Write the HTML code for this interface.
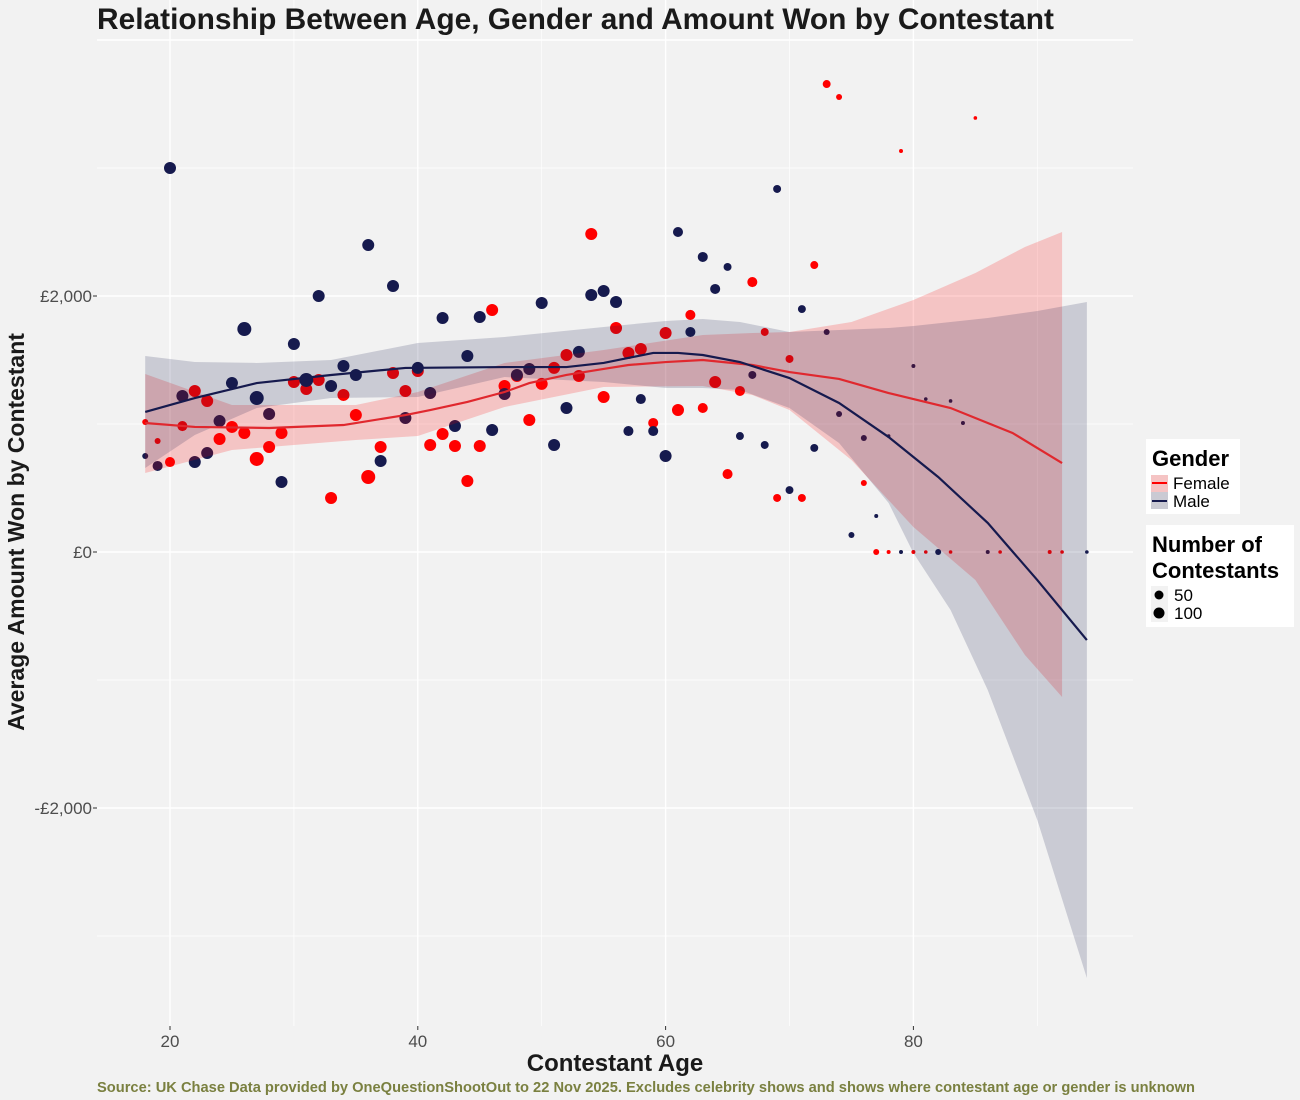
<!DOCTYPE html>
<html><head><meta charset="utf-8"><style>
body{margin:0;background:#f2f2f2;}
svg{display:block;font-family:"Liberation Sans",Arial,sans-serif;}
</style></head><body>
<svg id="chart" width="1300" height="1100" viewBox="0 0 1300 1100" xmlns="http://www.w3.org/2000/svg">
<rect width="1300" height="1100" fill="#f2f2f2"/>
<g id="grid"></g>
<g id="points"></g>
<g id="smooth"></g>
<g id="axes"></g>
<text x="97" y="29" font-size="30" font-weight="bold" fill="#1a1a1a" textLength="957" lengthAdjust="spacingAndGlyphs">Relationship Between Age, Gender and Amount Won by Contestant</text>
<text transform="translate(24,532) rotate(-90)" text-anchor="middle" font-size="23" font-weight="bold" fill="#1a1a1a">Average Amount Won by Contestant</text>
<text x="615" y="1071" text-anchor="middle" font-size="24" font-weight="bold" fill="#1a1a1a">Contestant Age</text>
<text x="97" y="1092" font-size="14.5" font-weight="bold" fill="#7a8040" textLength="1098" lengthAdjust="spacingAndGlyphs">Source: UK Chase Data provided by OneQuestionShootOut to 22 Nov 2025. Excludes celebrity shows and shows where contestant age or gender is unknown</text>
<g>
<rect x="1146" y="439" width="94" height="75" fill="#ffffff"/>
<text x="1152" y="466" font-size="22" font-weight="bold" fill="#000">Gender</text>
<rect x="1151" y="475" width="17" height="17" fill="#f5c4c4"/>
<line x1="1152" y1="483" x2="1167" y2="483" stroke="#ff0000" stroke-width="2"/>
<text x="1173" y="489" font-size="17" fill="#000">Female</text>
<rect x="1151" y="492" width="17" height="17" fill="#cacad3"/>
<line x1="1152" y1="501" x2="1167" y2="501" stroke="#161a4e" stroke-width="2"/>
<text x="1173" y="507" font-size="17" fill="#000">Male</text>
</g>
<g>
<rect x="1146" y="525" width="148" height="102" fill="#ffffff"/>
<text x="1152" y="552" font-size="22" font-weight="bold" fill="#000">Number of</text>
<text x="1152" y="578" font-size="22" font-weight="bold" fill="#000">Contestants</text>
<rect x="1151" y="586" width="17" height="36" fill="#f2f2f2"/>
<circle cx="1159" cy="595" r="4.5" fill="#000"/>
<text x="1174" y="601" font-size="17" fill="#000">50</text>
<circle cx="1159" cy="613" r="5.5" fill="#000"/>
<text x="1174" y="619" font-size="17" fill="#000">100</text>
</g>
</svg>
<script>
const fAges=[18,19,20,21,22,23,24,25,26,27,28,29,30,31,32,33,34,35,36,37,38,39,40,41,42,43,44,45,46,47,48,49,50,51,52,53,54,55,56,57,58,59,60,61,62,63,64,65,66,67,68,69,70,71,72,73,74,76,77,78,79,80,81,83,85,87,91,92];
const fAmounts=[1016,867,703,984,1258,1180,883,977,930,727,820,930,1328,1273,1344,422,1227,1070,586,820,1398,1258,1414,836,922,828,555,828,1891,1297,1375,1031,1313,1438,1539,1375,2484,1211,1750,1555,1586,1008,1711,1109,1852,1125,1328,609,1258,2109,1719,422,1508,422,2242,3656,3555,539,0,0,3133,0,0,0,3391,0,0,0];
const fCounts=[25,25,70,70,100,100,100,100,100,136,100,100,100,100,100,100,100,100,136,100,100,100,100,100,100,100,100,100,100,100,100,100,100,100,100,100,100,100,100,100,100,70,100,100,70,70,100,70,70,70,44,44,44,44,44,44,25,25,25,11,11,11,9,9,9,9,11,9];
const mAges=[18,19,20,21,22,23,24,25,26,27,28,29,30,31,32,33,34,35,36,37,38,39,40,41,42,43,44,45,46,47,48,49,50,51,52,53,54,55,56,57,58,59,60,61,62,63,64,65,66,67,68,69,70,71,72,73,74,75,76,77,78,79,80,81,82,83,84,86,94];
const mAmounts=[750,672,3000,1219,703,773,1023,1320,1742,1203,1078,547,1625,1344,2000,1297,1453,1383,2398,711,2078,1047,1438,1242,1828,984,1531,1836,953,1234,1383,1430,1945,836,1125,1563,2008,2039,1953,945,1195,945,750,2500,1719,2305,2055,2227,906,1383,836,2836,484,1898,813,1719,1078,133,891,281,906,0,1453,1195,0,1180,1008,0,0];
const mCounts=[25,70,100,100,100,100,100,100,136,136,100,100,100,136,100,100,100,100,100,100,100,100,100,100,100,100,100,100,100,100,100,100,100,100,100,100,100,100,100,70,70,70,100,70,70,70,70,44,44,44,44,44,44,44,44,25,25,25,25,11,9,11,11,9,25,9,11,11,9];
const fLineAges=[18,22,28,34,39,41,44,47,49,52,55,57,60,63,67,70,74,78,83,88,92];
const fLineVals=[1008,977,969,992,1070,1109,1172,1250,1320,1383,1430,1461,1484,1500,1461,1406,1352,1242,1125,930,695];
const fBandAges=[18,25,30,35,40,47,55,63,67,70,75,80,85,89,92];
const fBandUpper=[1391,1148,1148,1148,1250,1477,1578,1695,1711,1719,1797,1969,2180,2383,2500];
const fBandLower=[617,797,836,875,906,1133,1289,1297,1227,1109,719,195,-219,-805,-1133];
const mLineAges=[18,22,27,33,39,47,52,55,59,61,63,66,70,74,78,82,86,90,94];
const mLineVals=[1094,1203,1320,1383,1438,1445,1445,1477,1555,1555,1539,1484,1359,1164,898,586,227,-219,-688];
const mBandAges=[18,22,27,33,40,47,55,60,63,66,70,74,78,80,83,86,90,94];
const mBandUpper=[1531,1484,1477,1500,1633,1680,1758,1805,1820,1797,1719,1734,1750,1766,1797,1828,1883,1953];
const mBandLower=[656,914,1125,1203,1211,1367,1328,1281,1281,1266,1125,852,383,-8,-453,-1078,-2094,-3328];
const xTicks=[20,40,60,80];
const xMinor=[30,50,70,90];
const yTicks=[4000,2000,0,-2000];
const yTickLabels=["","£2,000","£0","-£2,000"];
const yMinor=[3000,1000,-1000,-3000];

const NS="http://www.w3.org/2000/svg";
const X0=97,X1=1133,Y0=0,Y1=1026;
function xs(a){return 170+(a-20)*12.39;}
function ys(v){return 552-v*0.128;}
function mk(tag,attrs,parent){const e=document.createElementNS(NS,tag);for(const k in attrs)e.setAttribute(k,attrs[k]);parent.appendChild(e);return e;}
const grid=document.getElementById('grid'),axes=document.getElementById('axes');
yMinor.forEach(v=>{const l=mk('line',{x1:X0,x2:X1,y1:ys(v),y2:ys(v),stroke:'#ffffff','stroke-width':0.7},grid);

});
xMinor.forEach(a=>{const l=mk('line',{x1:xs(a),x2:xs(a),y1:Y0,y2:Y1,stroke:'#ffffff','stroke-width':0.7},grid);

});
yTicks.forEach((v,i)=>{const l=mk('line',{x1:X0,x2:X1,y1:ys(v),y2:ys(v),stroke:'#ffffff','stroke-width':1.4},grid);


if(yTickLabels[i]){const t=mk('line',{x1:X0-4,x2:X0,y1:ys(v),y2:ys(v),stroke:'#333','stroke-width':1},axes);


const tx=mk('text',{x:X0-5,y:ys(v)+6,'text-anchor':'end','font-size':17,fill:'#4d4d4d'},axes);tx.textContent=yTickLabels[i];

}});
xTicks.forEach(a=>{const l=mk('line',{x1:xs(a),x2:xs(a),y1:Y0,y2:Y1,stroke:'#ffffff','stroke-width':1.4},grid);


const t=mk('line',{x1:xs(a),x2:xs(a),y1:Y1,y2:Y1+4,stroke:'#333','stroke-width':1},axes);


const tx=mk('text',{x:xs(a),y:Y1+21,'text-anchor':'middle','font-size':17,fill:'#4d4d4d'},axes);tx.textContent=a;

});
const pts=document.getElementById('points');
function rad(n){return 0.6*Math.sqrt(n);}
fAges.forEach((a,i)=>{const c=mk('circle',{cx:xs(a),cy:ys(fAmounts[i]),r:rad(fCounts[i]),fill:'#ff0000'},pts);

});
mAges.forEach((a,i)=>{const c=mk('circle',{cx:xs(a),cy:ys(mAmounts[i]),r:rad(mCounts[i]),fill:'#161a4e'},pts);

});
const sm=document.getElementById('smooth');
function band(ages,up,lo,fill,name){let d='M';ages.forEach((a,i)=>{d+=xs(a)+','+ys(up[i])+' L';});
for(let i=ages.length-1;i>=0;i--){d+=xs(ages[i])+','+ys(lo[i])+(i?' L':' Z');}
const p=mk('path',{d:d,fill:fill},sm);

}
function line(ages,vals,col,name){const p=mk('polyline',{points:ages.map((a,i)=>xs(a)+','+ys(vals[i])).join(' '),fill:'none',stroke:col,'stroke-width':2.2},sm);

}
band(fBandAges,fBandUpper,fBandLower,'rgba(255,0,0,0.19)','female-confidence-band');
band(mBandAges,mBandUpper,mBandLower,'rgba(22,26,78,0.18)','male-confidence-band');
line(fLineAges,fLineVals,'#e0282e','female-trend-line');
line(mLineAges,mLineVals,'#161a4e','male-trend-line');
</script>
</body></html>
